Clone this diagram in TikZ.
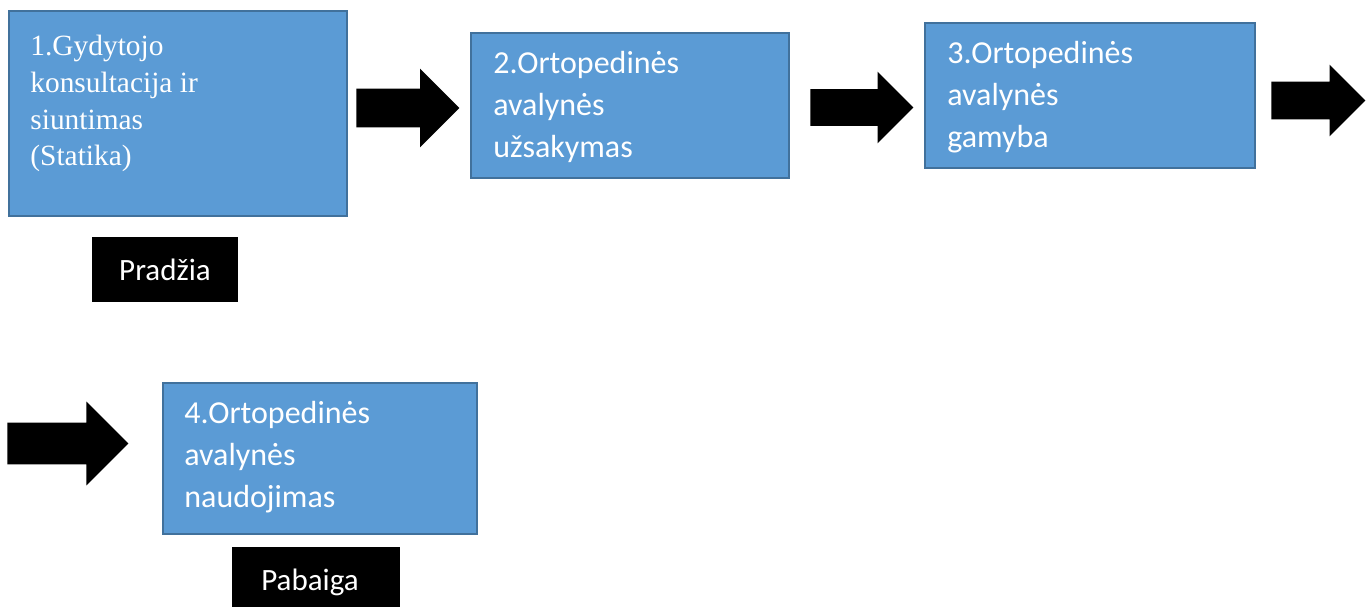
\documentclass[tikz,border=0pt]{standalone}
\usepackage{fontspec}
\setmainfont{Carlito}
\newfontfamily\timesfont{Liberation Serif}
\usetikzlibrary{shapes.arrows}
\definecolor{boxblue}{HTML}{5B9BD5}
\definecolor{boxline}{HTML}{41719C}
\tikzset{
	stepbox/.style={rectangle,draw=boxline,line width=1pt,fill=boxblue,anchor=north west,inner sep=0pt},
	steptext/.style={anchor=north west,inner sep=0pt,align=left,text=white,font=\fontsize{16}{21}\selectfont},
	endbox/.style={rectangle,fill=black,text=white,inner sep=0pt,font=\fontsize{15.5}{19}\selectfont},
	blockarrow/.style={single arrow,fill=black,inner xsep=0pt,single arrow tip angle=90,anchor=tail}
}
\begin{document}
\begin{tikzpicture}[x=0.5pt,y=-0.5pt]
	\path[use as bounding box,clip] (0,0) rectangle (1372,606);
	\node[stepbox,minimum width=169pt,minimum height=102.5pt] (s1) at (8,10) {};
	\node[stepbox,minimum width=159pt,minimum height=72.5pt] (s2) at (470,32) {};
	\node[stepbox,minimum width=165pt,minimum height=72.5pt] (s3) at (924,22) {};
	\node[stepbox,minimum width=157pt,minimum height=75.5pt] (s4) at (162,382) {};
	\node[steptext,font=\timesfont\fontsize{14.7}{18.3}\selectfont] (t1) at ([shift={(22,25)}]s1.north west) {1.Gydytojo\\konsultacija ir\\siuntimas\\(Statika)};
	\node[steptext] (t2) at ([shift={(23,18.6)}]s2.north west) {2.Ortopedinės\\avalynės\\užsakymas};
	\node[steptext] (t3) at ([shift={(23,18.6)}]s3.north west) {3.Ortopedinės\\avalynės\\gamyba};
	\node[steptext] (t4) at ([shift={(22,18.6)}]s4.north west) {4.Ortopedinės\\avalynės\\naudojimas};
	\node[endbox,minimum width=73pt,minimum height=32.5pt] (pradzia) at (165,269.5) {Pradžia};
	\node[endbox,minimum width=84pt,minimum height=35pt] (pabaiga) at (316,582) {Pabaiga\hspace*{6pt}};
	\node[blockarrow,inner ysep=9.5pt,minimum height=51.5pt,single arrow head extend=10pt] (a1) at (356,108) {};
	\node[blockarrow,inner ysep=9pt,minimum height=51.5pt,single arrow head extend=8.75pt] (a2) at (810,107.5) {};
	\node[blockarrow,inner ysep=9.25pt,minimum height=47pt,single arrow head extend=8.5pt] (a3) at (1271,100.5) {};
	\node[blockarrow,inner ysep=10.25pt,minimum height=60.5pt,single arrow head extend=10.5pt] (a4) at (7,443.5) {};
\end{tikzpicture}
\end{document}
